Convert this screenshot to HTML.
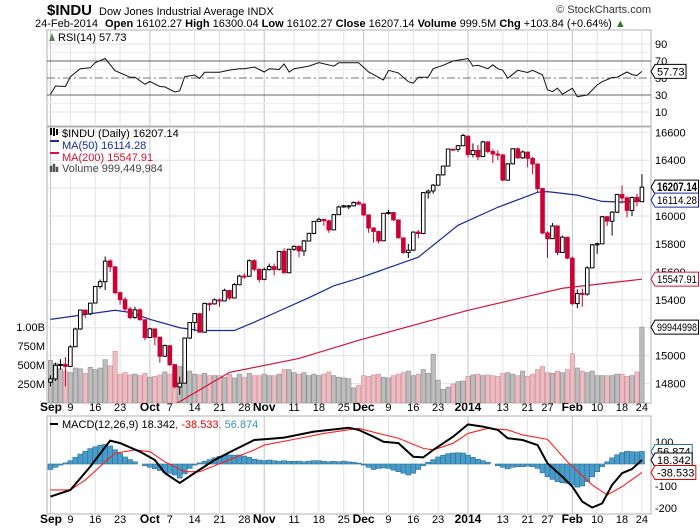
<!DOCTYPE html>
<html><head><meta charset="utf-8"><style>
html,body{margin:0;padding:0;background:#fff;}
svg{display:block;font-family:"Liberation Sans",sans-serif;}
</style></head><body>
<svg id="chart" width="700" height="530" viewBox="0 0 700 530" xmlns="http://www.w3.org/2000/svg">
<text x="47" y="15" font-size="15" font-weight="bold">$INDU</text>
<text x="99" y="15" font-size="11">Dow Jones Industrial Average  INDX</text>
<text x="651" y="13" font-size="11" text-anchor="end" fill="#333">© StockCharts.com</text>
<text x="35" y="27" font-size="11">24-Feb-2014 <tspan font-weight="bold" dx="4">Open</tspan> 16102.27 <tspan font-weight="bold">High</tspan> 16300.04 <tspan font-weight="bold">Low</tspan> 16102.27 <tspan font-weight="bold">Close</tspan> 16207.14 <tspan font-weight="bold">Volume</tspan> 999.5M <tspan font-weight="bold">Chg</tspan> +103.84 (+0.64%) <tspan fill="#2a7a2a">▲</tspan></text>
<g id="g"></g>
</svg>
<script>
const dateLabels=["Sep","9","16","23","Oct","7","14","21","28","Nov","11","18","25","Dec","9","16","23","2014","13","21","27","Feb","10","18","24"];
const dateIdx=[0,4,9,14,20,24,29,34,39,43,49,54,59,63,68,73,78,84,91,96,100,105,110,115,119];
const dateBold=[1,0,0,0,1,0,0,0,0,1,0,0,0,1,0,0,0,1,0,0,0,1,0,0,0];
const opens=[14810,14833,14931,14938,14923,15064,15191,15326,15300,15377,15495,15530,15678,15636,15451,15401,15334,15273,15328,15257,
15130,15191,15132,14996,15071,14936,14776,14803,15126,15237,15300,15168,15373,15371,15399,15392,15467,15413,15508,15570,15569,15680,15618,
15547,15616,15637,15619,15747,15594,15762,15782,15750,15821,15876,15962,15975,15966,15901,16010,16065,16072,16073,16097,
16086,16008,15914,15889,15823,16020,16025,15972,15843,15739,15756,15885,15875,16167,16180,16221,16295,16358,16479,16478,16504,
16572,16441,16470,16426,16531,16462,16444,16437,16257,16374,16482,16417,16458,16413,16373,16197,15879,15838,15929,15739,15848,
15698,15373,15446,15441,15629,15794,15801,15995,15963,16028,16154,16130,16040,16134,16103];
const highs=[14860,14950,14975,14990,15075,15200,15330,15330,15380,15500,15545,15710,15690,15640,15460,15420,15350,15350,15340,15260,
15200,15195,15135,15080,15075,14940,14850,15130,15240,15305,15305,15380,15380,15410,15410,15480,15470,15520,15580,15590,15690,15690,15625,
15630,15660,15660,15750,15770,15765,15790,15790,15830,15880,15965,15990,15980,15975,16015,16075,16080,16080,16105,16110,
16090,16010,15920,15895,16020,16045,16030,15975,15845,15800,15890,15900,16170,16190,16230,16300,16360,16480,16480,16510,16590,
16575,16520,16510,16540,16535,16480,16470,16445,16380,16485,16490,16470,16460,16425,16375,16200,15890,15950,15930,15860,15850,
15710,15475,15480,15640,15800,15810,16000,16000,16035,16160,16220,16140,16140,16160,16300];
const lows=[14780,14820,14900,14780,14920,15060,15185,15270,15290,15375,15480,15470,15600,15440,15365,15315,15260,15265,15250,15110,
15130,15075,14950,14990,14925,14765,14720,14800,15120,15175,15165,15165,15320,15365,15350,15390,15400,15410,15505,15550,15565,15605,15525,
15540,15610,15575,15610,15590,15590,15750,15705,15715,15820,15870,15960,15930,15880,15900,16010,16060,16050,16070,16080,
16000,15880,15810,15805,15820,16010,15965,15840,15730,15700,15750,15840,15870,16125,16160,16220,16290,16355,16470,16460,16500,
16420,16420,16400,16425,16450,16380,16400,16250,16255,16370,16410,16410,16350,16300,16170,15870,15700,15840,15720,15740,15690,
15360,15340,15350,15430,15630,15730,15800,15930,15860,16020,16090,15990,16000,16070,16100];
const closes=[14834,14931,14937,14923,15063,15191,15327,15301,15376,15495,15530,15677,15637,15451,15401,15335,15273,15328,15258,15130,
15192,15133,14996,15073,14936,14777,14803,15126,15237,15301,15168,15374,15372,15400,15392,15468,15413,15509,15570,15569,15680,15619,15546,
15616,15639,15618,15747,15594,15762,15783,15751,15822,15876,15962,15976,15967,15901,16010,16065,16073,16073,16097,16086,
16009,15915,15890,15822,16020,16026,15973,15844,15739,15755,15885,15875,16168,16179,16221,16295,16358,16480,16478,16504,16577,
16441,16470,16425,16531,16463,16445,16437,16258,16374,16482,16417,16459,16414,16373,16197,15879,15838,15929,15739,15849,15699,
15373,15445,15440,15629,15794,15802,15995,15964,16028,16154,16130,16041,16133,16103,16207];
const volumes=[560,520,450,420,400,460,450,390,470,440,460,570,490,680,380,400,370,380,360,390,
340,350,370,410,380,490,480,400,420,380,370,390,360,360,360,340,380,330,380,340,390,360,360,
380,360,360,380,440,440,400,380,400,360,380,360,380,410,360,340,330,320,200,230,
360,350,370,380,340,330,360,380,400,420,360,380,440,390,640,300,180,210,250,280,290,
350,370,380,360,370,360,350,390,400,380,360,420,350,380,440,480,400,390,420,400,440,
650,460,420,400,420,360,360,360,360,380,380,350,360,410,999];
const ma50Idx=[0,13,16,20,26,30,37,41,46,52,57,62,74,82,90,98,100,106,111,115,119];
const ma50Val=[15260,15325,15310,15260,15200,15180,15180,15240,15320,15415,15500,15554,15705,15934,16063,16170,16175,16150,16105,16100,16114];
const ma200Idx=[25,36,50,62,84,103,119];
const ma200Val=[14650,14880,14980,15110,15325,15483,15548];
const rsiIdx=[0,1,3,4,6,8,9,11,13,16,17,19,20,22,23,25,26,27,29,30,31,34,36,38,39,41,43,44,46,47,48,49,52,54,57,58,62,64,67,68,70,72,73,74,76,77,79,81,84,85,86,88,89,90,91,92,94,96,97,99,100,101,102,103,105,106,108,110,111,113,114,116,117,118,119];
const rsiVal=[30.8,40.6,40,51.5,61,62,68,73,58.6,51,51,42.6,46,40,39.5,33.5,35,51.5,53.5,49.5,56.7,56.7,59.3,61,61,63,57,61,60,66.5,57,61,64,68,64,68,68,57,47.6,59,56,45.7,44,51,51,61,65,70,73,64,65,61,65.5,61,59,49.6,59,56.5,59,53.7,36,34,38,31,38,28,30,41.8,45.7,50.6,51,57,54,53,57.73];
const macdIdx=[0,4,8,12,14,18,21,23,26,29,33,37,41,44,47,53,60,62,65,67,70,73,75,77,81,84,87,90,92,95,98,100,103,105,107,109,111,113,115,117,119];
const macdVal=[-148,-118,-12,106,95,56,18,-41,-86,-41,18,64,109,114,120,147,165,155,124,101,95,33,30,64,124,180,170,155,117,109,86,3,-58,-103,-171,-198,-179,-95,-42,-23,18.3];
const sigIdx=[0,4,7,11,13,17,20,23,27,30,35,41,43,49,55,62,66,70,75,77,81,84,88,92,95,100,104,109,112,115,119];
const sigVal=[-118,-118,-73,10,49,64,56,10,-35,-35,10,64,86,112,139,162,139,117,71,64,94,139,162,155,132,112,10,-95,-141,-103,-38.5];
const hist=[-25,-15,-5,5,15,30,45,58,70,78,85,90,82,65,48,32,20,10,0,-8,-15,-22,-30,-38,-42,-50,-64,-45,-20,-5,5,12,20,28,35,40,41,40,41,36,30,22,18,15,18,15,13,15,12,12,13,10,13,15,15,12,10,12,10,13,10,8,4,-5,-15,-25,-20,-18,-20,-28,-35,-42,-50,-42,-25,-8,8,20,32,40,47,50,51,50,40,30,22,15,8,0,-8,-15,-22,-15,-12,-12,-10,-12,-20,-40,-58,-70,-80,-85,-88,-95,-105,-100,-80,-58,-35,-12,10,28,42,52,58,56,55,57];
const priceTicks=[14800,15000,15200,15400,15600,15800,16000,16200,16400,16600];
const volTickLabels=["1.00B","750M","500M","250M"];
const volTickVals=[1000,750,500,250];
const rsiTicks=[90,70,50,30,10];
const macdTicks=[100,-100,-200];

const NS="http://www.w3.org/2000/svg";
const G=document.getElementById('g');
const L=47,R=651;
const bx=i=>50.5+i*4.97;
const py=v=>132.3+(16600-v)*0.1396;
const vy=m=>403-m*0.076;
const ry=v=>78-(v-50)*0.85;
const my=v=>464-v*0.22;
function el(tag,attrs,parent){const e=document.createElementNS(NS,tag);for(const k in attrs)e.setAttribute(k,attrs[k]);(parent||G).appendChild(e);return e;}
function txt(s,attrs,parent){const e=el('text',attrs,parent);e.textContent=s;return e;}

const panels=[[30,126,'rsi-panel'],[127,403,'price-panel'],[416,514,'macd-panel']];
panels.forEach(p=>{const r=el('rect',{x:L,y:p[0],width:R-L,height:p[1]-p[0],fill:'#fff',stroke:'#b0b0b0'});

});
dateIdx.forEach((d,k)=>{const x=bx(d);
 panels.forEach(p=>{const ln=el('line',{x1:x,x2:x,y1:p[0],y2:p[1],stroke:dateBold[k]?'#c4c4c4':'#e2e2e2'});
 
 });
});
[411,523].forEach(yy=>{dateLabels.forEach((s,k)=>{const x=bx(dateIdx[k]);
 const t=txt(s,{x:k==0?40:x,y:yy,'font-size':dateBold[k]?12:11,'font-weight':dateBold[k]?'bold':'normal','text-anchor':k==0?'start':'middle'});
 
 });});

rsiTicks.forEach(v=>{const y=ry(v);
 const attrs={x1:L,x2:R,y1:y,y2:y,stroke:'#e2e2e2'};
 if(v==70||v==30){attrs.stroke='#666';}
 if(v==50){attrs.stroke='#777';attrs['stroke-dasharray']='8,3,2,3';}
 const ln=el('line',attrs);
 
 
 const t=txt(String(v),{x:655,y:y+4,'font-size':11});
 
 });
[20,40,60,80].forEach(v=>{const y=ry(v);const ln=el('line',{x1:L,x2:R,y1:y,y2:y,stroke:'#eee'});});
const rsiPts=rsiIdx.map((d,k)=>bx(d).toFixed(1)+','+ry(rsiVal[k]).toFixed(1)).join(' ');
const rsiLine=el('polyline',{points:rsiPts,fill:'none',stroke:'#111','stroke-width':1});


const rsiLeg=txt('RSI(14) 57.73',{x:58,y:41,'font-size':11});


const rsiIcon=el('path',{d:'M49 41 L52 33 L55 41 Z',fill:'#5a8a5a'});


function tag(y,label,color,name,bold){const g=el('g',{});
 
 
 const p=el('path',{fill:'#fff',stroke:color},g);
 const t=txt(label,{x:657,y:y+4,'font-size':bold?11.5:11,'font-weight':bold?'bold':'normal'},g);
 let w=t.getComputedTextLength();
 const maxW=697-657;
 if(w>maxW){t.setAttribute('textLength',maxW);t.setAttribute('lengthAdjust','spacingAndGlyphs');w=maxW;}
 const e=657+w+1.5;
 p.setAttribute('d',`M651 ${y} L655 ${y-7} L${e} ${y-7} L${e} ${y+7} L655 ${y+7} Z`);}
tag(ry(57.73),'57.73','#000','rsi-value-tag');

priceTicks.forEach(v=>{const y=py(v);
 const ln=el('line',{x1:L,x2:R,y1:y,y2:y,stroke:'#e2e2e2'});
 
 
 const t=txt(String(v),{x:655,y:y+4,'font-size':11});
 
 });
volTickVals.forEach((v,k)=>{const t=txt(volTickLabels[k],{x:45,y:vy(v)+4,'font-size':11,'text-anchor':'end'});
 
 });
const defs=el('defs',{});
const cp=el('clipPath',{id:'pc'},defs);el('rect',{x:L,y:127,width:R-L,height:276},cp);
const PG=el('g',{'clip-path':'url(#pc)'});
volumes.forEach((m,i)=>{const down=i>0&&closes[i]<closes[i-1];
 const r=el('rect',{x:bx(i)-2.2,y:vy(m),width:4.4,height:403-vy(m),fill:down?'#ebbcc2':'#bdbdbd',stroke:down?'#d58f9b':'#8c8c8c','stroke-width':0.6},PG);
 
 });
const ma50=el('polyline',{points:ma50Idx.map((d,k)=>bx(d)+','+py(ma50Val[k])).join(' '),fill:'none',stroke:'#1a2a9a','stroke-width':1.2},PG);


const ma200=el('polyline',{points:ma200Idx.map((d,k)=>bx(d)+','+py(ma200Val[k])).join(' '),fill:'none',stroke:'#d8143a','stroke-width':1.2},PG);


closes.forEach((c,i)=>{const o=opens[i];const down=i>0&&c<closes[i-1];const col=down?'#cc0033':'#000';
 const x=bx(i);const g=el('g',{},PG);
 
 
 el('line',{x1:x,x2:x,y1:py(highs[i]),y2:py(lows[i]),stroke:col,'stroke-width':1},g);
 const top=py(Math.max(o,c)),bot=py(Math.min(o,c));
 el('rect',{x:x-1.8,y:top,width:3.6,height:Math.max(1,bot-top),fill:c<o?col:'#fff',stroke:col,'stroke-width':1},g);});
const leg=[['$INDU (Daily) 16207.14','#000',137,'price-legend'],['MA(50) 16114.28','#1a2a9a',149,'ma50-legend'],['MA(200) 15547.91','#d8143a',161,'ma200-legend'],['Volume 999,449,984','#444',172,'volume-legend']];
leg.forEach(l=>{const t=txt(l[0],{x:62,y:l[2],'font-size':11,fill:l[1]});
 
 });
el('rect',{x:50,y:140,width:9,height:2,fill:'#1a2a9a'});
el('rect',{x:50,y:152,width:9,height:2,fill:'#d8143a'});
el('path',{d:'M50 172 v-6 h2 v6 M53 172 v-8 h2 v8 M56 172 v-5 h2 v5',fill:'#555',stroke:'#555','stroke-width':0.5});
el('path',{d:'M51 135 v-7 M54 136 v-8 M57 135 v-6',stroke:'#000','stroke-width':2});
tag(py(16207.14),'16207.14','#000','close-tag',true);
tag(py(16114.28),'16114.28','#1a2a9a','ma50-tag');
tag(py(15547.91),'15547.91','#d8143a','ma200-tag');
tag(vy(999),'99944998','#000','volume-tag');

macdTicks.forEach(v=>{const y=my(v);
 const t=txt(String(v),{x:655,y:y+4,'font-size':11});
 
 });
hist.forEach((h,i)=>{const y0=my(0),y1=my(h);
 const r=el('rect',{x:bx(i)-2.5,y:Math.min(y0,y1),width:5,height:Math.abs(y1-y0),fill:'#4a9cc8',stroke:'#2b6f9c','stroke-width':0.6});
 
 });
const sig=el('polyline',{points:sigIdx.map((d,k)=>bx(d)+','+my(sigVal[k])).join(' '),fill:'none',stroke:'#ff2020','stroke-width':1.1});


const mac=el('polyline',{points:macdIdx.map((d,k)=>bx(d)+','+my(macdVal[k])).join(' '),fill:'none',stroke:'#000','stroke-width':2});


const ml=txt('',{x:62,y:428,'font-size':11});


ml.innerHTML='MACD(12,26,9) 18.342<tspan fill="#e00">, -38.533</tspan><tspan fill="#3b8fc0">, 56.874</tspan>';
el('rect',{x:50,y:423,width:8,height:2,fill:'#000'});
tag(my(56.874),'56.874','#2b6f9c','macd-hist-tag');
tag(my(18.342),'18.342','#000','macd-value-tag');
tag(my(-38.533),'-38.533','#e00','macd-signal-tag');
</script>
</body></html>
